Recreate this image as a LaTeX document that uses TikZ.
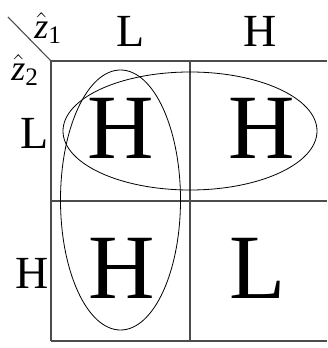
\documentclass[tikz,border=0pt]{standalone}
\usepackage{fix-cm}
\usepackage{amsmath}
\usepackage{fontspec}
\setmainfont{Liberation Serif}

\begin{document}
\begin{tikzpicture}[
    x=1pt, y=-1pt,
    grid/.style={draw=black!70, line width=1.1pt},
    group/.style={draw=black, line width=0.8pt},
    head/.style={font=\fontsize{46}{48}\selectfont, anchor=base, inner sep=0pt},
    cell/.style={font=\fontsize{92}{96}\selectfont, anchor=base, inner sep=0pt},
    var/.style={font=\fontsize{36}{38}\selectfont, inner sep=0pt}
  ]
  \useasboundingbox (0,0) rectangle (327,348);

  % frame of the map
  \draw[grid] (8,17) -- (51,61);
  \draw[grid] (51,61) -- (327,61);
  \draw[grid] (51,201) -- (327,201);
  \draw[grid] (51,341) -- (327,341);
  \draw[grid] (51,61) -- (51,341);
  \draw[grid] (190,61) -- (190,341);

  % variable names
  \node[var] (zone) at (48,28) {$\hat{\text{\itshape z}}_{\text{1}}$};
  \node[var] (ztwo) at (25,70) {$\hat{\text{\itshape z}}_{\text{2}}$};

  % column and row heads
  \node[head] (colL) at (131,46) {L};
  \node[head] (colH) at (260,46) {H};
  \node[head] (rowL) at (35,148) {L};
  \node[head] (rowH) at (32,288) {H};

  % cells
  \node[cell] (hh) at (121,158) {H};
  \node[cell] (hl) at (262,158) {H};
  \node[cell] (lh) at (122,298) {H};
  \node[cell] (ll) at (258,298) {L};

  % groupings
  \draw[group] (190,131) ellipse [x radius=127, y radius=59];
  \draw[group] (120.5,200) ellipse [x radius=60, y radius=130];
\end{tikzpicture}
\end{document}
